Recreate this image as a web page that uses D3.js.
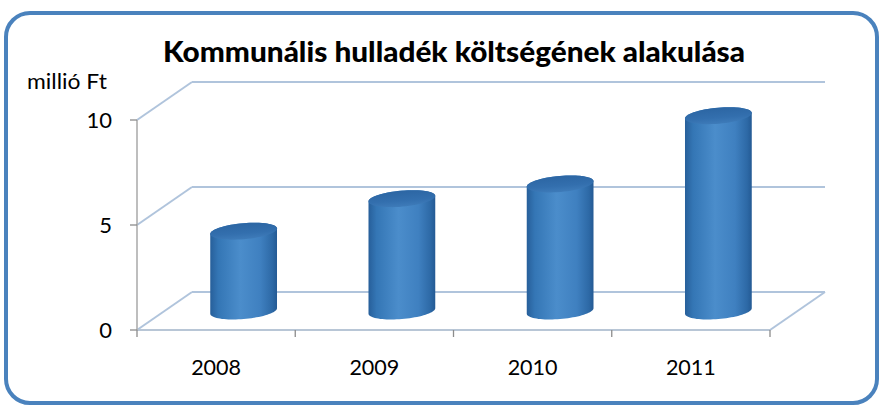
<!DOCTYPE html>
<html><head><meta charset="utf-8">
<script src="https://cdn.jsdelivr.net/npm/d3@7"></script>
<style>html,body{margin:0;padding:0;background:#fff;}svg{display:block;}</style>
</head><body>
<svg id="c" width="879" height="406"></svg>
<script>
const categories = ["2008", "2009", "2010", "2011"];
const values = [3.8, 5.35, 6.05, 9.3];
const yTicks = [0, 5, 10];
const title = "Kommunális hulladék költségének alakulása";
const yUnit = "millió Ft";

(function () {
const svg = d3.select("#c");
const font = "Lato, 'Open Sans', sans-serif";

// frame
svg.append("rect").attr("x", 6).attr("y", 13).attr("width", 871).attr("height", 390)
  .attr("rx", 24).attr("ry", 24).attr("fill", "#fff")
  .attr("stroke", "#4a82bd").attr("stroke-width", 4);

// 3D geometry
const pLeft = 137, pRight = 770, pBottom = 330, pTop = 120;
const ddx = 55, ddy = -38; // depth offset (front -> back)
const x = d3.scaleBand().domain(categories).range([pLeft, pRight]);
const y = d3.scaleLinear().domain([0, 10]).range([pBottom, pTop]);

const defs = svg.append("defs");
const g1 = defs.append("linearGradient").attr("id", "body").attr("x1", 0).attr("x2", 1).attr("y1", 0).attr("y2", 0);
[[0, "#275f9a"], [0.12, "#3476b5"], [0.45, "#4b8dcb"], [0.75, "#3f80c0"], [0.93, "#2d69a6"], [1, "#245a94"]]
  .forEach(([o, c]) => g1.append("stop").attr("offset", o).attr("stop-color", c));
const g2 = defs.append("linearGradient").attr("id", "topg").attr("x1", 0).attr("x2", 0.3).attr("y1", 0).attr("y2", 1);
[[0, "#2a63a0"], [0.7, "#336fae"], [1, "#3d7ab8"]]
  .forEach(([o, c]) => g2.append("stop").attr("offset", o).attr("stop-color", c));

const grid = svg.append("g");
const gridColor = "#b0c4dc";
yTicks.forEach(t => {
  grid.append("line").attr("x1", pLeft).attr("y1", y(t)).attr("x2", pLeft + ddx).attr("y2", y(t) + ddy)
    .attr("stroke", gridColor).attr("stroke-width", 2);
  grid.append("line").attr("x1", pLeft + ddx).attr("y1", y(t) + ddy).attr("x2", pRight + ddx).attr("y2", y(t) + ddy)
    .attr("stroke", gridColor).attr("stroke-width", 2);
});
grid.append("line").attr("x1", pRight).attr("y1", y(0)).attr("x2", pRight + ddx).attr("y2", y(0) + ddy)
  .attr("stroke", gridColor).attr("stroke-width", 2);
grid.append("line").attr("x1", pLeft).attr("y1", y(0)).attr("x2", pRight).attr("y2", y(0))
  .attr("stroke", "#b8c6d6").attr("stroke-width", 2);
grid.append("line").attr("x1", pLeft).attr("y1", y(10)).attr("x2", pLeft).attr("y2", y(0))
  .attr("stroke", "#a9a9a9").attr("stroke-width", 1.5);
yTicks.forEach(t => {
  grid.append("line").attr("x1", pLeft - 7).attr("y1", y(t)).attr("x2", pLeft).attr("y2", y(t))
    .attr("stroke", "#8c8c8c").attr("stroke-width", 1.3);
});
const xt = categories.map(c => x(c)).concat([pRight]);
xt.forEach(p => {
  grid.append("line").attr("x1", p).attr("y1", y(0)).attr("x2", p).attr("y2", y(0) + 7)
    .attr("stroke", "#8c8c8c").attr("stroke-width", 1.3);
});

// cylinders
const rx = 33.5, ry = 8, phi = -5 * Math.PI / 180;
function ept(cx, cy, t) {
  return [cx + rx * Math.cos(t) * Math.cos(phi) - ry * Math.sin(t) * Math.sin(phi),
          cy + rx * Math.cos(t) * Math.sin(phi) + ry * Math.sin(t) * Math.cos(phi)];
}
const tR = Math.atan2(-ry * Math.sin(phi), rx * Math.cos(phi));
const tL = tR + Math.PI;
const bars = svg.append("g");
categories.forEach((c, i) => {
  const cx = x(c) + x.bandwidth() / 2 + ddx / 2;
  const yb = y(0) + ddy / 2;
  const yt = y(values[i]) + ddy / 2;
  const pts = [];
  const N = 40;
  for (let k = 0; k <= N; k++) { const t = tR + (tL - tR) * k / N; pts.push(ept(cx, yb, t)); }
  for (let k = 0; k <= N; k++) { const t = tL + Math.PI * k / N; pts.push(ept(cx, yt, t)); }
  bars.append("path").attr("d", d3.line()(pts) + "Z").attr("fill", "url(#body)");
  const tp = [];
  for (let k = 0; k <= 60; k++) tp.push(ept(cx, yt, 2 * Math.PI * k / 60));
  bars.append("path").attr("d", d3.line()(tp) + "Z").attr("fill", "url(#topg)");
});

function fitText(sel, w) {
  sel.attr("textLength", w).attr("lengthAdjust", "spacingAndGlyphs");
}
const tt = svg.append("text").attr("x", 454).attr("y", 62).attr("text-anchor", "middle")
  .attr("font-family", font).attr("font-weight", 900).attr("font-size", 29).attr("fill", "#000")
  .text(title);
fitText(tt, 582);
const ut = svg.append("text").attr("x", 27).attr("y", 89).attr("font-family", font).attr("font-size", 22)
  .attr("fill", "#000").text(yUnit);
fitText(ut, 80);
yTicks.forEach(t => {
  svg.append("text").attr("x", 112).attr("y", y(t)).attr("dy", "0.36em").attr("text-anchor", "end")
    .attr("font-family", font).attr("font-size", 22).attr("fill", "#000").text(t);
});
categories.forEach(c => {
  const ct = svg.append("text").attr("x", x(c) + x.bandwidth() / 2).attr("y", 375).attr("text-anchor", "middle")
    .attr("font-family", font).attr("font-size", 22).attr("fill", "#000").text(c);
  fitText(ct, 50);
});
})();
</script>
</body></html>
